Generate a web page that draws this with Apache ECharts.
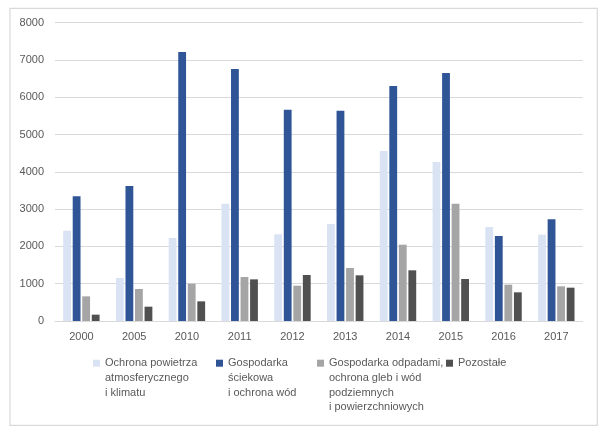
<!DOCTYPE html>
<html>
<head>
<meta charset="utf-8">
<script src="https://cdn.jsdelivr.net/npm/echarts@6/dist/echarts.min.js"></script>
<style>html,body{margin:0;padding:0;background:#fff;}#c{width:610px;height:437px;}</style>
</head>
<body>
<div id="c"></div>
<script>
const categories = ['2000','2005','2010','2011','2012','2013','2014','2015','2016','2017'];
const seriesNames = [
  'Ochrona powietrza\natmosferycznego\ni klimatu',
  'Gospodarka\nściekowa\ni ochrona wód',
  'Gospodarka odpadami,\nochrona gleb i wód\npodziemnych\ni powierzchniowych',
  'Pozostałe'
];
const ochronaPowietrza = [2422, 1153, 2226, 3146, 2324, 2601, 4559, 4264, 2521, 2315];
const gospodarkaSciekowa = [3343, 3620, 7213, 6758, 5667, 5640, 6302, 6650, 2279, 2726];
const gospodarkaOdpadami = [661, 858, 1001, 1180, 947, 1421, 2047, 3146, 974, 930];
const pozostale = [170, 384, 527, 1117, 1234, 1225, 1359, 1126, 769, 894];
const yTicks = [0, 1000, 2000, 3000, 4000, 5000, 6000, 7000, 8000];

const colors = ['#dae3f3', '#2f5597', '#a5a5a5', '#505050'];
const values = [ochronaPowietrza, gospodarkaSciekowa, gospodarkaOdpadami, pozostale];
const legendLeft = [93, 216, 317, 446];
const LH = 14.7;
const iconCenterY = 363.2;

const chart = echarts.init(document.getElementById('c'), null, {renderer: 'canvas'});
const font = 'Liberation Sans, Arial, sans-serif';

const legends = seriesNames.map((n, i) => {
  const lines = n.split('\n').length;
  return {
    data: [n],
    left: legendLeft[i],
    top: iconCenterY - (2 * lines - 1) * LH / 2,
    padding: 0,
    itemWidth: 7,
    itemHeight: 7,
    icon: 'rect',
    selectedMode: false,
    formatter: name => '\n'.repeat(lines - 1) + name,
    textStyle: {
      fontFamily: font,
      fontSize: 11,
      color: '#595959',
      lineHeight: LH
    }
  };
});

chart.setOption({
  animation: false,
  color: colors,
  graphic: [{
    type: 'rect',
    shape: {x: 10, y: 8.3, width: 587.3, height: 417},
    style: {fill: 'none', stroke: '#d9d9d9', lineWidth: 1.2},
    silent: true
  }],
  grid: {left: 55, right: 27.3, top: 22.7, bottom: 116},
  legend: legends,
  xAxis: {
    type: 'category',
    data: categories,
    axisLine: {lineStyle: {color: '#d9d9d9', width: 1}},
    axisTick: {show: false},
    axisLabel: {fontFamily: font, fontSize: 11, color: '#595959', margin: 10}
  },
  yAxis: {
    type: 'value',
    min: yTicks[0],
    max: yTicks[yTicks.length - 1],
    interval: 1000,
    axisLine: {show: false},
    axisTick: {show: false},
    splitLine: {lineStyle: {color: '#d9d9d9', width: 1}},
    axisLabel: {fontFamily: font, fontSize: 11, color: '#595959', margin: 11, formatter: v => String(v)}
  },
  series: seriesNames.map((n, i) => ({
    name: n,
    type: 'bar',
    data: values[i],
    barGap: '22%',
    barCategoryGap: '31%',
    itemStyle: {color: colors[i]}
  }))
});
</script>
</body>
</html>
